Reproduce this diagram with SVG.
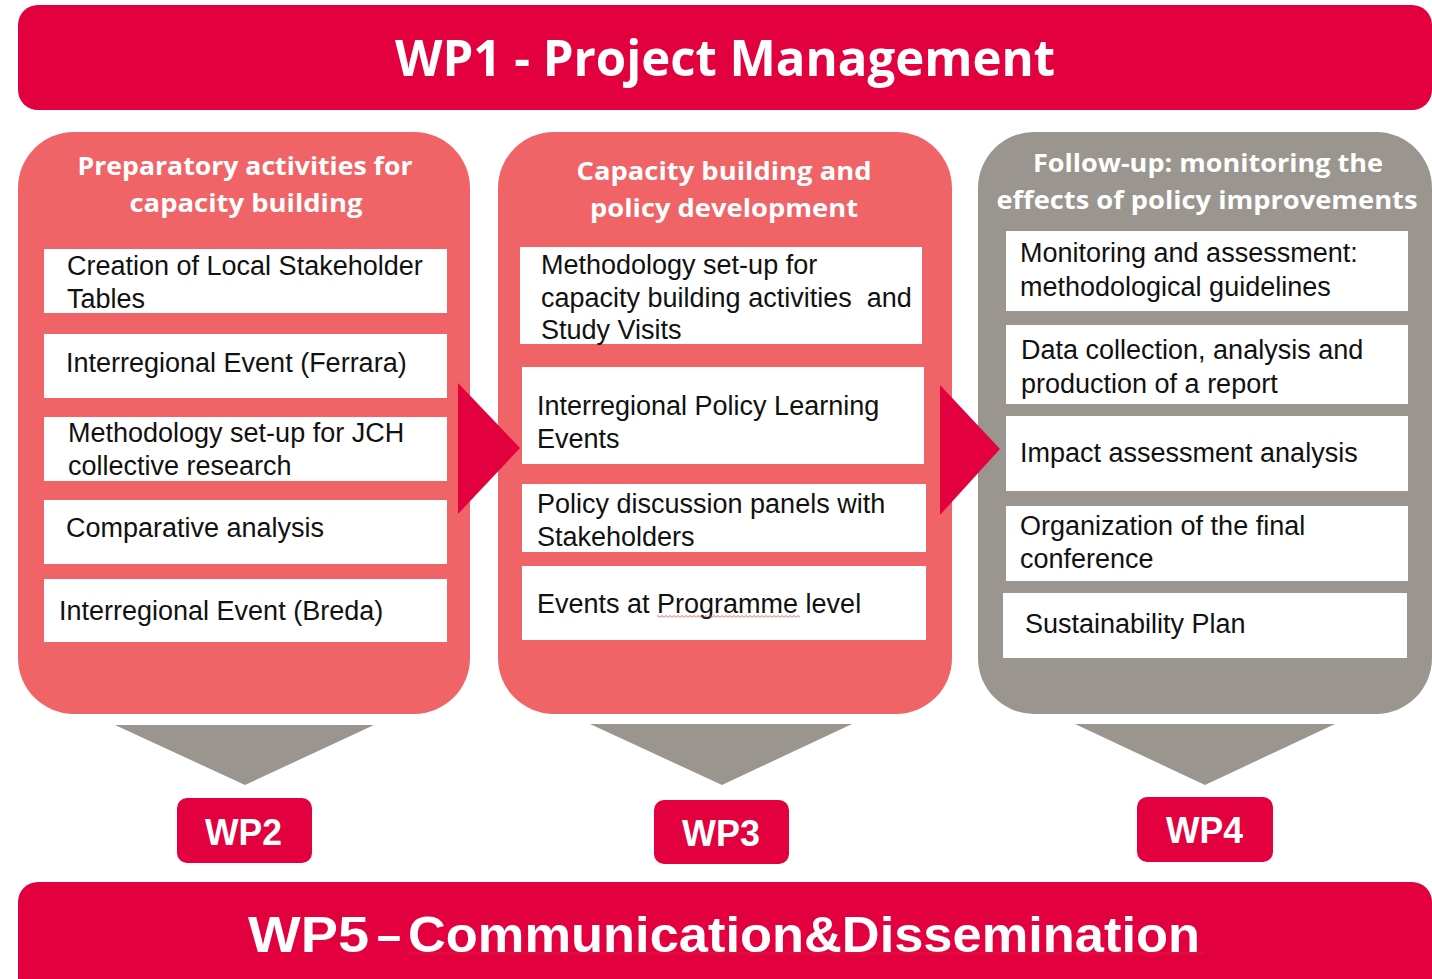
<svg xmlns="http://www.w3.org/2000/svg" width="1432" height="979" viewBox="0 0 1432 979">
<defs>
<style>
.crimson{fill:#E2003F}
.salmon{fill:#F06468}
.gray{fill:#9A968F}
.box{fill:#FFFFFF}
.title{font-family:"Open Sans","Liberation Sans",sans-serif;font-weight:700;fill:#FFFFFF}
.head{font-family:"Open Sans","Liberation Sans",sans-serif;font-weight:700;font-size:25px;fill:#FFFFFF;text-anchor:middle}
.narrow{font-family:"Liberation Sans Narrow","Liberation Sans",sans-serif;font-weight:700;fill:#FFFFFF}
.body{font-family:"Liberation Sans",Arial,sans-serif;font-size:27px;fill:#111111}
</style>
<pattern id="wave" x="0" y="0" width="4" height="3" patternUnits="userSpaceOnUse">
<polyline points="0,2.5 2,0.5 4,2.5" fill="none" stroke="#E03030" stroke-width="0.8"/>
</pattern>
</defs>
<rect width="1432" height="979" fill="#FFFFFF"/>

<g id="wp1">
<rect class="crimson" x="18" y="5" width="1414" height="105" rx="20"/>
<text class="title" x="395" y="76" font-size="50" textLength="660" lengthAdjust="spacingAndGlyphs">WP1 - Project Management</text>
</g>

<g id="col1">
<rect class="salmon" x="18" y="132" width="452" height="582" rx="56"/>
<text class="head" x="245" y="175" textLength="335" lengthAdjust="spacingAndGlyphs">Preparatory activities for</text>
<text class="head" x="246" y="212" textLength="233" lengthAdjust="spacingAndGlyphs">capacity building</text>
<rect class="box" x="44" y="249" width="403" height="64"/>
<text class="body" x="67" y="275">Creation of Local Stakeholder</text>
<text class="body" x="67" y="308">Tables</text>
<rect class="box" x="44" y="334" width="403" height="64"/>
<text class="body" x="66" y="372">Interregional Event (Ferrara)</text>
<rect class="box" x="44" y="417" width="403" height="64"/>
<text class="body" x="68" y="442">Methodology set-up for JCH</text>
<text class="body" x="68" y="475">collective research</text>
<rect class="box" x="44" y="500" width="403" height="64"/>
<text class="body" x="66" y="537">Comparative analysis</text>
<rect class="box" x="44" y="579" width="403" height="63"/>
<text class="body" x="59" y="620">Interregional Event (Breda)</text>
</g>

<g id="col2">
<rect class="salmon" x="498" y="132" width="454" height="582" rx="56"/>
<text class="head" x="724" y="180" textLength="295" lengthAdjust="spacingAndGlyphs">Capacity building and</text>
<text class="head" x="724" y="217" textLength="268" lengthAdjust="spacingAndGlyphs">policy development</text>
<rect class="box" x="520" y="247" width="402" height="97"/>
<text class="body" x="541" y="274">Methodology set-up for</text>
<text class="body" x="541" y="307">capacity building activities &#160;and</text>
<text class="body" x="541" y="339">Study Visits</text>
<rect class="box" x="522" y="367" width="402" height="97"/>
<text class="body" x="537" y="415">Interregional Policy Learning</text>
<text class="body" x="537" y="448">Events</text>
<rect class="box" x="522" y="484" width="404" height="68"/>
<text class="body" x="537" y="513">Policy discussion panels with</text>
<text class="body" x="537" y="546">Stakeholders</text>
<rect class="box" x="522" y="566" width="404" height="74"/>
<text class="body" x="537" y="613">Events at Programme level</text>
<rect fill="url(#wave)" x="657" y="615" width="143" height="3"/>
</g>

<g id="col3">
<rect class="gray" x="978" y="132" width="454" height="582" rx="56"/>
<text class="head" x="1208" y="172" textLength="350" lengthAdjust="spacingAndGlyphs">Follow-up: monitoring the</text>
<text class="head" x="1207" y="209" textLength="421" lengthAdjust="spacingAndGlyphs">effects of policy improvements</text>
<rect class="box" x="1006" y="231" width="402" height="80"/>
<text class="body" x="1020" y="262">Monitoring and assessment:</text>
<text class="body" x="1020" y="296">methodological guidelines</text>
<rect class="box" x="1006" y="325" width="402" height="79"/>
<text class="body" x="1021" y="359">Data collection, analysis and</text>
<text class="body" x="1021" y="393">production of a report</text>
<rect class="box" x="1006" y="416" width="402" height="75"/>
<text class="body" x="1020" y="462">Impact assessment analysis</text>
<rect class="box" x="1006" y="506" width="402" height="75"/>
<text class="body" x="1020" y="535">Organization of the final</text>
<text class="body" x="1020" y="568">conference</text>
<rect class="box" x="1003" y="593" width="404" height="65"/>
<text class="body" x="1025" y="633">Sustainability Plan</text>
</g>

<g id="connectors">
<polygon class="crimson" points="458,383 520,448 458,514"/>
<polygon class="crimson" points="940,385 1000,449 940,515"/>
<polygon class="gray" points="115,725 374,725 245,785"/>
<polygon class="gray" points="590,724 852,724 722,785"/>
<polygon class="gray" points="1075,724 1335,724 1205,785"/>
</g>

<g id="wp2">
<rect class="crimson" x="177" y="798" width="135" height="65" rx="10"/>
<text class="narrow" x="205" y="845" font-size="37" textLength="77" lengthAdjust="spacingAndGlyphs">WP2</text>
</g>
<g id="wp3">
<rect class="crimson" x="654" y="800" width="135" height="64" rx="10"/>
<text class="narrow" x="682" y="846" font-size="37" textLength="78" lengthAdjust="spacingAndGlyphs">WP3</text>
</g>
<g id="wp4">
<rect class="crimson" x="1137" y="797" width="136" height="65" rx="10"/>
<text class="narrow" x="1166" y="843" font-size="37" textLength="77" lengthAdjust="spacingAndGlyphs">WP4</text>
</g>

<g id="wp5">
<rect class="crimson" x="18" y="882" width="1414" height="120" rx="20"/>
<text class="narrow" y="952" font-size="50"><tspan x="248" textLength="121" lengthAdjust="spacingAndGlyphs">WP5</tspan><tspan x="377" textLength="24" lengthAdjust="spacingAndGlyphs">–</tspan><tspan x="408" textLength="792" lengthAdjust="spacingAndGlyphs">Communication&amp;Dissemination</tspan></text>
<rect fill="url(#wave)" x="407" y="952" width="798" height="3"/>
</g>
</svg>
